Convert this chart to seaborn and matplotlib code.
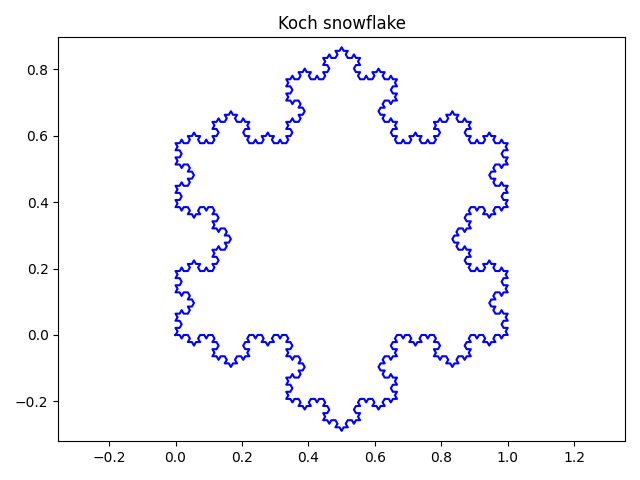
import numpy as np
import pandas as pd
import matplotlib
matplotlib.use('Agg')
import matplotlib.pyplot as plt
import seaborn as sns

# starting triangle, walked clockwise so the bumps grow outwards
tri_x = [0.0, 0.5, 1.0]
tri_y = [0.0, np.sqrt(3) / 2, 0.0]
ORDER = 4


def koch_points(xs, ys, order):
    pts = np.array(xs) + 1j * np.array(ys)
    pts = np.append(pts, pts[0])
    rot = np.exp(1j * np.pi / 3)
    for _ in range(order):
        new = []
        for a, b in zip(pts[:-1], pts[1:]):
            d = (b - a) / 3
            new += [a, a + d, a + d + d * rot, a + 2 * d]
        new.append(pts[-1])
        pts = np.array(new)
    return pts


pts = koch_points(tri_x, tri_y, ORDER)
df = pd.DataFrame({'x': pts.real, 'y': pts.imag})

fig, ax = plt.subplots(figsize=(6.4, 4.8), dpi=100)
sns.lineplot(data=df, x='x', y='y', sort=False, estimator=None,
             color='b', linewidth=1.5, ax=ax)
ax.set_xlabel('')
ax.set_ylabel('')
ax.set_title('Koch snowflake')
ax.set_aspect('equal', adjustable='datalim')
ax.set_xlim(-0.351, 1.351)
ax.set_ylim(-0.32, 0.896)
plt.tight_layout()
plt.savefig('out.png')
plt.close()
